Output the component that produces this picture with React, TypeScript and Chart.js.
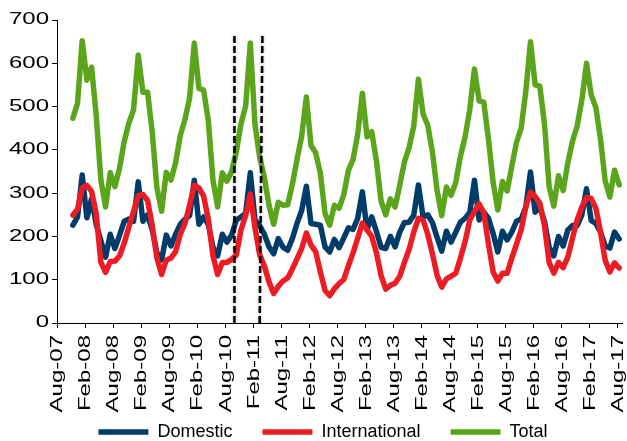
import React, { useEffect, useRef } from 'react';
import { Chart, registerables } from 'chart.js';

Chart.register(...registerables);

// Axis labels, one every six months (month 0 = Aug-07)
const TICK_LABELS = [
  'Aug-07', 'Feb-08', 'Aug-08', 'Feb-09', 'Aug-09', 'Feb-10', 'Aug-10',
  'Feb-11', 'Aug-11', 'Feb-12', 'Aug-12', 'Feb-13', 'Aug-13', 'Feb-14',
  'Aug-14', 'Feb-15', 'Aug-15', 'Feb-16', 'Aug-16', 'Feb-17', 'Aug-17',
];

// First observation is Nov-07 (three months after Aug-07); monthly thereafter
const FIRST_MONTH = 3;
const MID_MONTH = 0.4;

// Passengers (thousands), Nov-07 .. Aug-17
const DOMESTIC = [
  226, 245, 342, 243, 287, 228, 190, 152, 205, 172, 203, 235,
  240, 235, 326, 235, 250, 215, 162, 146, 203, 178, 205, 228,
  240, 248, 330, 228, 245, 228, 175, 155, 205, 187, 203, 238,
  245, 253, 347, 238, 225, 205, 176, 160, 195, 175, 168, 195,
  230, 260, 316, 230, 228, 226, 176, 164, 193, 174, 196, 220,
  216, 242, 303, 215, 245, 212, 175, 172, 200, 176, 210, 232,
  233, 249, 319, 245, 250, 232, 198, 166, 212, 187, 210, 233,
  242, 255, 330, 238, 256, 242, 207, 164, 212, 192, 210, 235,
  240, 268, 349, 256, 268, 235, 175, 155, 200, 178, 215, 225,
  225, 250, 310, 237, 230, 210, 178, 173, 210, 194,
];

const INTERNATIONAL = [
  249, 263, 312, 318, 304, 252, 140, 117, 142, 143, 155, 185,
  222, 258, 294, 297, 283, 225, 150, 112, 145, 150, 165, 205,
  230, 272, 318, 312, 293, 240, 155, 112, 140, 140, 147, 157,
  215, 248, 298, 220, 158, 132, 95, 68, 85, 97, 104, 125,
  148, 172, 208, 180, 165, 118, 75, 63, 79, 91, 100, 132,
  162, 196, 231, 215, 200, 163, 110, 78, 87, 92, 108, 140,
  170, 210, 242, 238, 205, 160, 110, 83, 102, 108, 115, 150,
  188, 238, 257, 275, 255, 183, 118, 97, 115, 115, 150, 182,
  215, 268, 302, 292, 277, 225, 140, 115, 140, 128, 152, 196,
  238, 268, 290, 288, 265, 210, 145, 118, 139, 127,
];

const TOTAL = [
  473, 508, 652, 561, 591, 480, 330, 268, 347, 315, 358, 420,
  462, 493, 619, 533, 533, 440, 312, 258, 348, 330, 370, 433,
  470, 520, 647, 542, 538, 468, 330, 268, 347, 328, 350, 395,
  460, 501, 647, 458, 383, 337, 272, 228, 279, 272, 273, 320,
  378, 432, 522, 410, 393, 346, 253, 226, 272, 265, 296, 352,
  378, 436, 531, 430, 442, 375, 282, 250, 287, 268, 318, 372,
  405, 455, 563, 483, 457, 395, 306, 248, 314, 295, 325, 385,
  430, 493, 587, 513, 510, 425, 325, 261, 327, 305, 362, 417,
  450, 535, 650, 550, 547, 460, 315, 270, 340, 306, 370, 420,
  455, 515, 600, 527, 498, 425, 328, 291, 353, 319,
];

// Hand-placed dashed period markers (months from Aug-07; top in axis units)
const MARKERS = [
  { base: 38.0, tip: 38.0, reach: 663 },
  { base: 43.4, tip: 44.0, reach: 670 },
];

const FONT_FAMILY = "'Liberation Sans', Arial, Helvetica, sans-serif";
const AXIS_FONT_SIZE = 16;
const AXIS_TEXT_STRETCH = 1.5; // axis labels use a wide, stretched face

const toPoints = (values: number[]) =>
  values.map((v, i) => ({ x: FIRST_MONTH + i + MID_MONTH, y: v }));

const markerPlugin = {
  id: 'periodMarkers',
  afterDatasetsDraw(chart: any) {
    const { ctx, scales } = chart;
    const xs = scales.x;
    const ys = scales.y;
    ctx.save();
    ctx.strokeStyle = '#000';
    ctx.lineWidth = 2.5;
    ctx.setLineDash([7, 3]);
    ctx.shadowColor = 'rgba(0,0,0,0.35)';
    ctx.shadowBlur = 3;
    MARKERS.forEach((m) => {
      ctx.beginPath();
      ctx.moveTo(xs.getPixelForValue(m.base), ys.getPixelForValue(0));
      ctx.lineTo(xs.getPixelForValue(m.tip), ys.getPixelForValue(m.reach));
      ctx.stroke();
    });
    ctx.restore();
  },
};

// Tick labels of both axes, written at the scales' own tick positions
// with a horizontally widened face.
const wideTickLabels = {
  id: 'wideTickLabels',
  afterDraw(chart: any) {
    const { ctx, scales } = chart;
    const xs = scales.x;
    const ys = scales.y;
    ctx.save();
    ctx.fillStyle = '#000';
    ctx.font = `${AXIS_FONT_SIZE}px ${FONT_FAMILY}`;
    ctx.textAlign = 'right';
    ctx.textBaseline = 'middle';

    ys.ticks.forEach((t: any, i: number) => {
      ctx.save();
      ctx.translate(ys.right - 8, ys.getPixelForTick(i));
      ctx.scale(AXIS_TEXT_STRETCH, 1);
      ctx.fillText(String(t.label), 0, 0);
      ctx.restore();
    });

    xs.ticks.forEach((t: any, i: number) => {
      ctx.save();
      ctx.translate(xs.getPixelForTick(i) + 1, xs.top + 12);
      ctx.rotate(-Math.PI / 2);
      ctx.scale(AXIS_TEXT_STRETCH, 1);
      ctx.fillText(String(t.label), 0, 0);
      ctx.restore();
    });
    ctx.restore();
  },
};

const axisGrid = {
  display: true,
  drawOnChartArea: false,
  drawTicks: true,
  tickLength: 5,
  color: '#000',
  lineWidth: 1,
};

export default function App() {
  const canvasRef = useRef<HTMLCanvasElement | null>(null);

  useEffect(() => {
    const canvas = canvasRef.current;
    if (!canvas) return;

    const line = (label: string, values: number[], color: string, order: number) => ({
      label,
      data: toPoints(values),
      borderColor: color,
      backgroundColor: color,
      borderWidth: 5.5,
      borderJoinStyle: 'round' as const,
      borderCapStyle: 'round' as const,
      pointRadius: 0,
      pointHoverRadius: 0,
      tension: 0,
      fill: false,
      order,
    });

    const chart = new Chart(canvas, {
      type: 'line',
      data: {
        datasets: [
          line('Domestic', DOMESTIC, '#003C69', 3),
          line('International', INTERNATIONAL, '#EC1C24', 2),
          line('Total', TOTAL, '#5BA51C', 1),
        ],
      },
      options: {
        animation: false,
        responsive: false,
        maintainAspectRatio: false,
        // negative right padding keeps the bottom legend centred under the plot
        layout: { padding: { left: 0, right: -19, top: 20, bottom: -10 } },
        plugins: {
          legend: {
            position: 'bottom',
            labels: {
              usePointStyle: true,
              pointStyle: 'line',
              pointStyleWidth: 50,
              padding: 30,
              color: '#000',
              font: { family: FONT_FAMILY, size: 18 },
              sort: (a: any, b: any) => a.datasetIndex - b.datasetIndex,
            },
          },
          tooltip: { enabled: false },
        },
        scales: {
          x: {
            type: 'linear',
            min: 0,
            max: 121,
            grid: axisGrid,
            border: { display: true, color: '#000', width: 1 },
            ticks: {
              display: false,
              stepSize: 6,
              autoSkip: false,
              includeBounds: false,
              callback: (v: any) => TICK_LABELS[Math.round(Number(v) / 6)] ?? '',
            },
            afterFit: (scale: any) => {
              scale.height = 70;
              scale.paddingLeft = 0;
              scale.paddingRight = 5;
            },
          },
          y: {
            min: 0,
            max: 700,
            grid: axisGrid,
            border: { display: true, color: '#000', width: 1 },
            ticks: {
              display: false,
              stepSize: 100,
            },
            afterFit: (scale: any) => {
              scale.width = 57;
            },
          },
        },
      },
      plugins: [markerPlugin, wideTickLabels],
    });

    return () => chart.destroy();
  }, []);

  return (
    <div style={{ position: 'absolute', left: 0, top: 0, width: 627, height: 441, background: '#fff' }}>
      <canvas ref={canvasRef} width={627} height={441} />
    </div>
  );
}
